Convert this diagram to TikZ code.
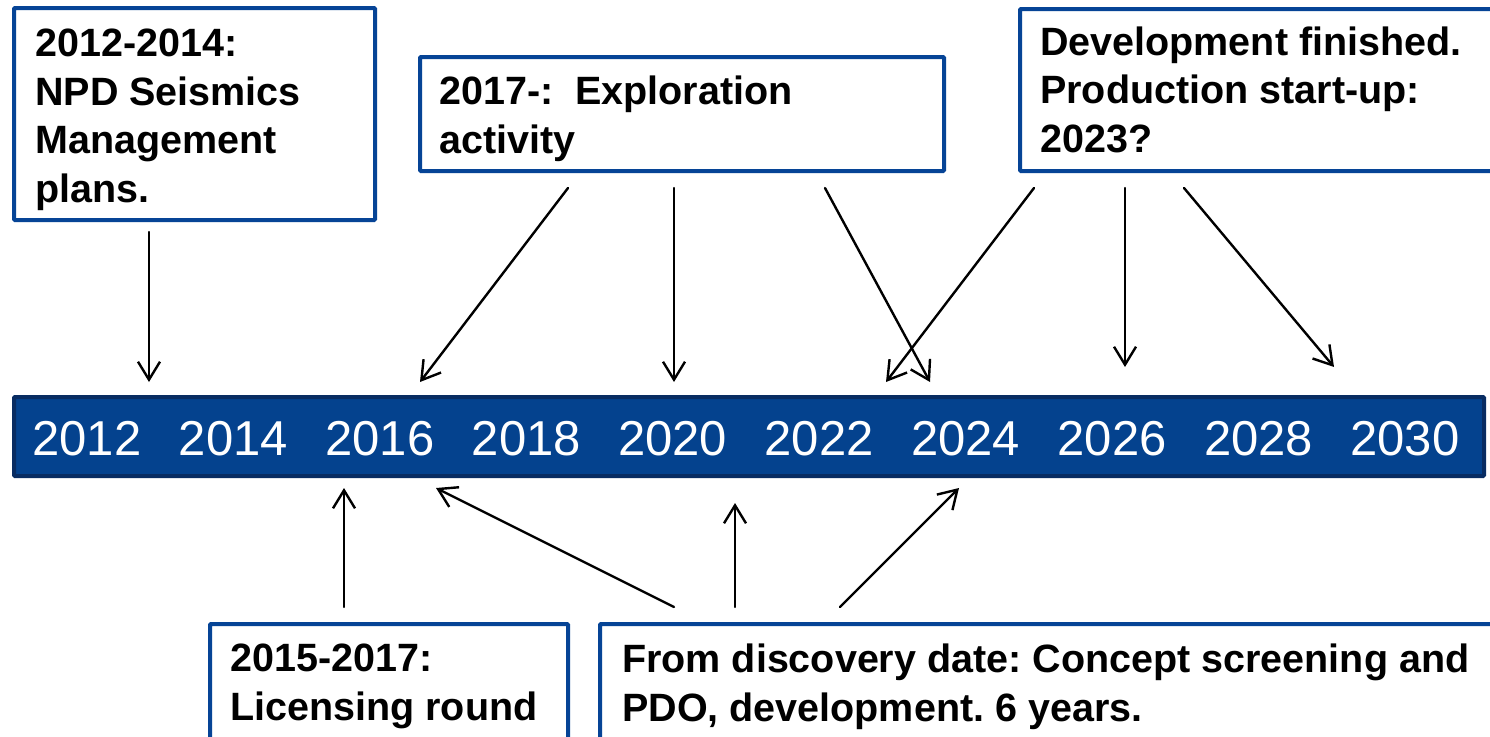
\documentclass[tikz,border=0pt]{standalone}
\usepackage{fontspec}
\setmainfont{Liberation Sans}
\usetikzlibrary{arrows.meta}
\definecolor{boxblue}{RGB}{6,68,150}
\definecolor{barfill}{RGB}{4,66,142}
\definecolor{barline}{RGB}{8,44,98}
\tikzset{
  frame/.style={draw=boxblue, line width=4pt, rounded corners=1pt},
  boxtext/.style={anchor=base west, inner sep=0pt, align=left,
    font=\fontsize{39.5}{48.5}\selectfont\bfseries\frenchspacing},
  yeartext/.style={anchor=base, inner sep=0pt, text=white,
    font=\fontsize{49}{55}\selectfont},
  pointer/.style={draw=black, line width=2.4pt, line join=round, line cap=round,
    -{Straight Barb[length=18pt,width=22pt,line width=2.4pt]}}
}
\begin{document}
\frenchspacing
\begin{tikzpicture}[x=1pt,y=-1pt]
\path[use as bounding box] (0,0) rectangle (1490,736);
\clip (0,0) rectangle (1490,736);
\fill[white] (0,0) rectangle (1490,736);

% timeline bar
\path[fill=barfill, draw=barline, line width=4pt, rounded corners=1pt]
  (14,397) rectangle (1484,476);
\coordinate (bar) at (749,436);
\foreach \yr [count=\i from 0] in {2012,2014,2016,2018,2020,2022,2024,2026,2028,2030}
  \node[yeartext] (y\yr) at ({87+146.44*\i},455) {\yr};

% boxes (text anchored at the baseline of its last line)
\draw[frame] (14,8) rectangle (375,220);
\node[boxtext] (t1) at (35,202) {2012-2014:\\NPD Seismics\\Management\\plans.};

\draw[frame] (420,57) rectangle (944,171);
\node[boxtext] (t2) at (439,153) {2017-:\ \ Exploration\\activity};

\draw[frame] (1020,9) rectangle (1510,171);
\node[boxtext] (t3) at (1040,152) {Development finished.\\Production start-up:\\2023?};

\draw[frame] (210,624) rectangle (568,760);
\node[boxtext] (t4) at (230,720) {2015-2017:\\Licensing round};

\draw[frame] (600,624) rectangle (1510,760);
\node[boxtext] (t5) at (622,721) {From discovery date: Concept screening and\\PDO, development. 6 years.};

% arrow end points
\coordinate (s1) at (149,232);  \coordinate (e1) at (149,382);
\coordinate (s2) at (568,188);  \coordinate (e2) at (420,382);
\coordinate (s3) at (674,188);  \coordinate (e3) at (674,382);
\coordinate (s4) at (825,188);  \coordinate (e4) at (930,382);
\coordinate (s5) at (1034,188); \coordinate (e5) at (886,382);
\coordinate (s6) at (1125,188); \coordinate (e6) at (1125,367);
\coordinate (s7) at (1184,188); \coordinate (e7) at (1334,367);
\coordinate (s8) at (344,607);  \coordinate (e8) at (344,488);
\coordinate (s9) at (674,607);  \coordinate (e9) at (436,488);
\coordinate (s10) at (735,607); \coordinate (e10) at (735,503);
\coordinate (s11) at (840,607); \coordinate (e11) at (959,488);

\foreach \k in {1,...,11}
  \draw[pointer] (s\k) -- (e\k);
\end{tikzpicture}
\end{document}
